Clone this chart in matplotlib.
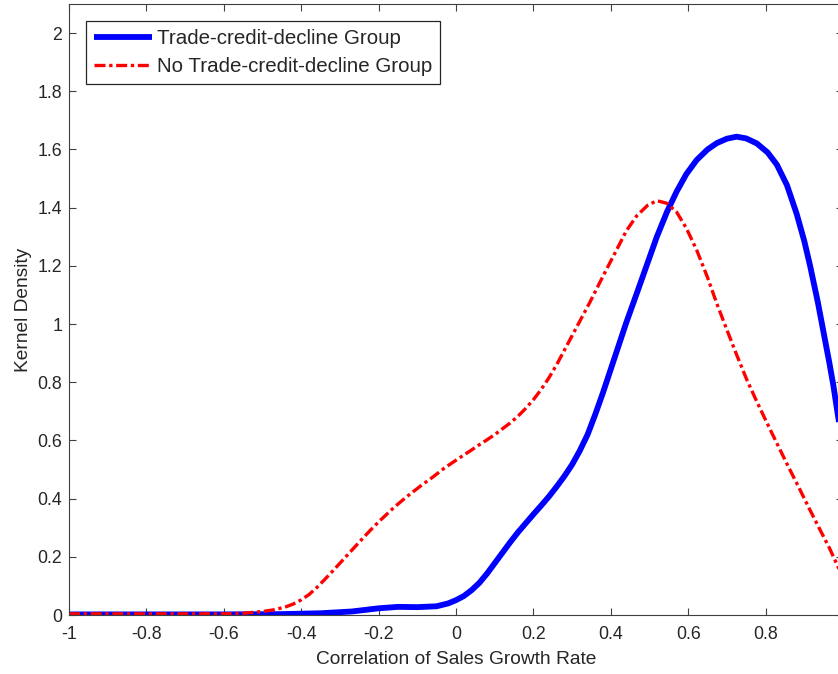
"""Kernel density of sales-growth correlation, two groups (MATLAB-style figure)."""
import matplotlib
matplotlib.use("Agg")
import matplotlib.pyplot as plt
from matplotlib.ticker import FormatStrFormatter

plt.rcParams["font.family"] = ["Liberation Sans", "DejaVu Sans"]
plt.rcParams["axes.unicode_minus"] = False

COLOR_TEXT = "#262626"
COLOR_AXIS = "#404040"

# --- data ---
blue_x = [-1.0, -0.8, -0.6, -0.45, -0.35, -0.27, -0.2, -0.15, -0.1, -0.05,
          -0.02, 0.0, 0.02, 0.04, 0.06, 0.08, 0.1, 0.12, 0.14, 0.16,
          0.18, 0.2, 0.22, 0.24, 0.26, 0.28, 0.3, 0.32, 0.34, 0.36,
          0.38, 0.4, 0.415, 0.44, 0.467, 0.495, 0.519, 0.545, 0.57, 0.595,
          0.622, 0.65, 0.674, 0.7, 0.725, 0.75, 0.777, 0.805, 0.829, 0.855,
          0.88, 0.9, 0.915, 0.935, 0.95, 0.965, 0.975, 0.987, 1.0]
blue_y = [0.002, 0.002, 0.002, 0.003, 0.006, 0.012, 0.023, 0.028, 0.027, 0.030,
          0.040, 0.051, 0.065, 0.085, 0.11, 0.142, 0.178, 0.214, 0.25, 0.284,
          0.315, 0.346, 0.376, 0.407, 0.441, 0.477, 0.517, 0.565, 0.62, 0.69,
          0.765, 0.845, 0.905, 1.005, 1.105, 1.21, 1.30, 1.385, 1.455, 1.515,
          1.564, 1.60, 1.622, 1.637, 1.644, 1.638, 1.621, 1.59, 1.548, 1.478,
          1.38, 1.285, 1.20, 1.075, 0.97, 0.865, 0.79, 0.685, 0.58]

red_x = [-1.0, -0.8, -0.6, -0.55, -0.5, -0.47, -0.44, -0.42, -0.4, -0.38,
         -0.36, -0.34, -0.32, -0.3, -0.28, -0.26, -0.24, -0.22, -0.2, -0.16,
         -0.127, -0.09, -0.059, -0.03, 0.0, 0.04, 0.06, 0.08, 0.1, 0.12,
         0.14, 0.16, 0.18, 0.2, 0.22, 0.24, 0.26, 0.28, 0.3, 0.32,
         0.346, 0.38, 0.415, 0.44, 0.467, 0.495, 0.519, 0.545, 0.57, 0.595,
         0.622, 0.65, 0.674, 0.7, 0.725, 0.751, 0.775, 0.8, 0.82, 0.855,
         0.889, 0.915, 0.941, 0.965, 0.987, 1.0]
red_y = [0.004, 0.004, 0.004, 0.006, 0.012, 0.018, 0.028, 0.038, 0.052, 0.07,
         0.094, 0.121, 0.149, 0.178, 0.207, 0.236, 0.265, 0.293, 0.32, 0.37,
         0.407, 0.445, 0.475, 0.505, 0.532, 0.567, 0.585, 0.602, 0.62, 0.64,
         0.66, 0.683, 0.71, 0.74, 0.775, 0.815, 0.86, 0.91, 0.96, 1.01,
         1.075, 1.165, 1.255, 1.32, 1.372, 1.408, 1.424, 1.415, 1.385, 1.33,
         1.254, 1.16, 1.07, 0.98, 0.895, 0.81, 0.74, 0.67, 0.615, 0.52,
         0.43, 0.36, 0.292, 0.23, 0.166, 0.13]

labels = ["Trade-credit-decline Group", "No Trade-credit-decline Group"]
x_ticks = [-1, -0.8, -0.6, -0.4, -0.2, 0, 0.2, 0.4, 0.6, 0.8]
y_ticks = [0, 0.2, 0.4, 0.6, 0.8, 1, 1.2, 1.4, 1.6, 1.8, 2]

fig = plt.figure(figsize=(8.38, 6.74), dpi=100)
ax = fig.add_axes([69 / 838, 59 / 674, 774 / 838, 611 / 674])

ax.plot(blue_x, blue_y, color="#0000ff", linewidth=4.2, label=labels[0],
        solid_capstyle="butt", solid_joinstyle="round")
ax.plot(red_x, red_y, color="#ff0000", linewidth=2.4, label=labels[1],
        linestyle=(0, (3.3, 1.1, 1.0, 1.1)), dash_capstyle="butt",
        dash_joinstyle="round")

ax.set_xlim(-1, 1)
ax.set_ylim(0, 2.1)
ax.set_xticks(x_ticks)
ax.set_yticks(y_ticks)
ax.xaxis.set_major_formatter(FormatStrFormatter("%g"))
ax.yaxis.set_major_formatter(FormatStrFormatter("%g"))

ax.tick_params(direction="in", top=True, right=True, length=5, width=0.8,
               color=COLOR_AXIS, labelcolor=COLOR_TEXT, labelsize=12.8)
ax.tick_params(axis="x", pad=8)
ax.tick_params(axis="y", pad=5)
for sp in ax.spines.values():
    sp.set_color(COLOR_AXIS)
    sp.set_linewidth(0.8)

ax.set_xlabel("Correlation of Sales Growth Rate", fontsize=13.8,
              color=COLOR_TEXT, labelpad=6)
ax.set_ylabel("Kernel Density", fontsize=13.8, color=COLOR_TEXT, labelpad=4)

leg = ax.legend(loc="upper left", fontsize=14.8, frameon=True, fancybox=False,
                framealpha=1, edgecolor=COLOR_TEXT, handlelength=2.8,
                handletextpad=0.25, labelspacing=0.42, borderpad=0.38,
                borderaxespad=0.85)
leg.get_frame().set_linewidth(0.9)
for t in leg.get_texts():
    t.set_color(COLOR_TEXT)

fig.savefig("out.png", dpi=100)
